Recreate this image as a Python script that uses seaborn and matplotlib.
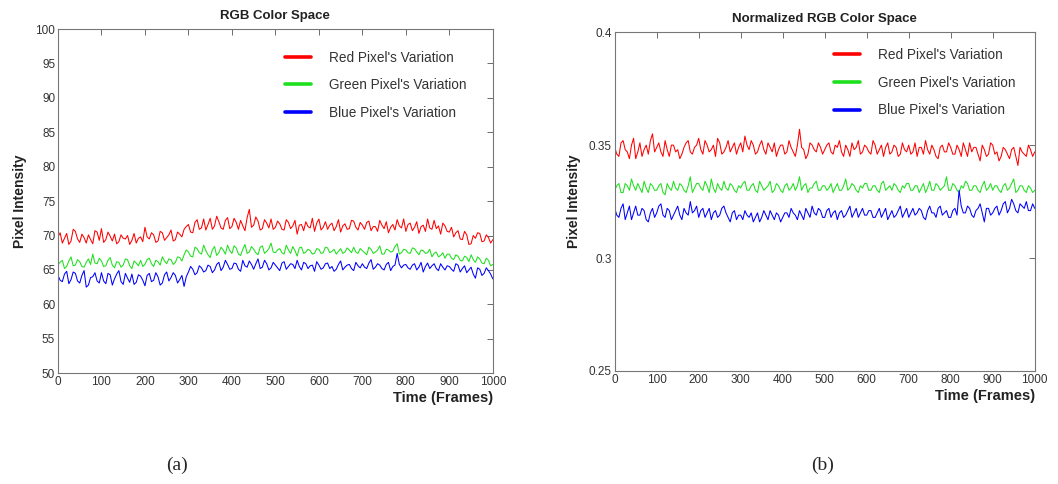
import numpy as np
import pandas as pd
import matplotlib.pyplot as plt
import seaborn as sns

# values: one list at frames 0,10,...,1000
# and one list at the frames in between (5,15,...,995)
frames = list(range(0, 1001, 5))

# (a) RGB colour space
red_a = [69.8, 68.9, 70.3, 69.2, 70.6, 69.0, 69.7, 70.1, 68.8, 70.5,
         71.0, 69.4, 69.9, 70.2, 69.1, 69.6, 70.0, 69.3, 68.9, 69.8,
         71.2, 69.5, 70.1, 69.2, 70.4, 69.7, 70.8, 69.4, 70.2, 70.9,
         71.6, 70.4, 72.3, 71.1, 70.8, 72.5, 71.4, 72.0, 70.9, 72.6,
         71.3, 71.9, 72.2, 70.7, 73.8, 71.5, 72.1, 71.0, 71.8, 72.4,
         71.2, 71.7, 70.8, 71.9, 71.4, 70.2, 71.6, 72.0, 71.1, 70.6,
         72.4, 71.2, 70.9, 71.8, 71.3, 70.5, 71.7, 71.0, 72.1, 70.8,
         71.5, 71.9, 70.7, 71.3, 72.2, 71.0, 70.4, 71.6, 72.3, 71.1,
         70.6, 71.8, 71.2, 70.3, 71.5, 72.4, 70.9, 71.0, 70.2, 71.4,
         70.5, 69.8, 70.7, 69.4, 70.1, 68.8, 69.6, 70.3, 69.2, 69.7, 69.4]
red_a_mid = [70.4, 69.6, 68.7, 70.9, 69.5, 70.2, 68.9, 69.4, 70.7, 69.3,
             69.0, 70.5, 69.2, 68.8, 70.1, 69.5, 68.7, 70.3, 69.6, 69.1,
             69.8, 70.4, 69.0, 70.6, 69.3, 70.1, 69.2, 70.5, 69.8, 71.3,
             70.5, 71.9, 70.9, 72.4, 71.6, 70.9, 72.8, 71.1, 72.2, 71.0,
             72.5, 70.9, 71.4, 72.6, 71.2, 72.7, 70.8, 72.3, 71.1, 70.9,
             72.1, 70.9, 72.3, 71.0, 72.2, 71.5, 70.7, 71.3, 72.5, 71.8,
             70.8, 72.0, 71.5, 70.7, 72.3, 71.4, 70.9, 72.2, 71.2, 71.9,
             70.9, 72.1, 71.3, 70.6, 71.5, 72.0, 71.2, 70.8, 71.4, 72.4,
             71.6, 70.7, 72.0, 71.3, 70.6, 71.1, 72.2, 71.4, 71.8, 70.6,
             71.2, 70.4, 69.5, 70.6, 68.7, 70.0, 70.4, 69.1, 70.1, 68.9]
green_a = [65.8, 66.4, 65.5, 66.9, 65.7, 66.2, 65.4, 66.6, 67.3, 65.9,
           66.3, 65.6, 66.8, 65.3, 66.1, 65.7, 66.5, 65.2, 66.0, 66.4,
           65.8, 66.7, 65.5, 66.2, 66.9, 65.9, 66.5, 66.1, 66.8, 67.2,
           67.6, 66.9, 68.1, 67.3, 67.8, 66.8, 68.4, 67.5, 67.9, 68.6,
           67.4, 68.2, 67.1, 68.7, 67.6, 68.0, 67.2, 68.5, 67.7, 68.9,
           67.5, 68.1, 67.3, 67.9, 68.4, 67.0, 68.3, 67.6, 67.8, 67.4,
           68.0, 67.5, 68.2, 67.7, 67.3, 68.1, 67.6, 67.9, 68.3, 67.4,
           67.8, 67.2, 68.0, 67.6, 68.5, 67.3, 67.9, 67.7, 68.8, 67.5,
           67.9, 67.4, 68.1, 67.2, 67.8, 67.5, 66.9, 67.6, 67.1, 66.7,
           67.3, 66.5, 67.0, 66.3, 66.8, 67.2, 66.1, 66.6, 65.9, 66.4, 65.8]
green_a_mid = [66.1, 65.2, 66.3, 65.6, 66.5, 65.5, 66.1, 65.8, 66.0, 66.7,
               65.5, 66.4, 65.7, 66.2, 65.4, 66.6, 65.6, 66.3, 65.6, 65.5,
               66.5, 65.9, 66.4, 65.7, 66.3, 66.6, 65.8, 66.9, 66.3, 67.9,
               67.0, 68.3, 67.5, 68.6, 67.2, 67.9, 67.1, 68.3, 67.3, 67.8,
               68.5, 67.3, 68.0, 67.4, 68.4, 67.5, 68.3, 67.4, 68.1, 67.6,
               67.9, 67.5, 68.6, 67.4, 67.8, 68.2, 67.4, 68.0, 67.3, 68.1,
               67.4, 68.3, 67.5, 68.0, 67.7, 67.4, 68.2, 67.5, 67.6, 68.1,
               67.5, 68.3, 67.4, 67.9, 67.3, 68.0, 67.6, 68.4, 67.3, 68.0,
               67.5, 68.2, 67.6, 67.9, 67.4, 68.0, 67.4, 66.9, 67.5, 67.3,
               66.7, 67.2, 66.4, 67.0, 66.2, 66.5, 66.9, 66.0, 66.7, 65.6]
blue_a = [64.2, 63.3, 64.8, 63.6, 64.5, 63.1, 64.9, 62.8, 64.0, 63.4,
          64.6, 63.0, 64.3, 63.7, 64.9, 62.9, 63.8, 64.4, 63.2, 64.1,
          62.7, 64.5, 63.5, 64.0, 63.1, 64.7, 63.9, 64.2, 63.6, 62.6,
          64.7, 65.1, 64.6, 65.3, 64.9, 65.5, 65.0, 66.1, 65.4, 65.8,
          65.2, 65.9, 64.8, 65.6, 66.3, 65.1, 66.6, 65.4, 65.9, 65.3,
          65.7, 64.9, 66.2, 65.5, 65.8, 66.4, 65.0, 65.9, 65.6, 64.8,
          65.7, 65.3, 66.0, 65.5, 65.1, 66.3, 65.4, 65.8, 64.9, 65.6,
          65.9, 65.2, 66.5, 65.4, 65.7, 65.0, 66.1, 65.5, 67.4, 65.3,
          65.8, 65.1, 65.9, 65.4, 64.7, 66.0, 65.6, 65.2, 65.9, 65.0,
          65.5, 64.8, 65.7, 65.2, 64.6, 65.4, 63.8, 65.1, 64.5, 64.9, 63.7]
blue_a_mid = [63.5, 64.4, 63.0, 64.7, 63.4, 64.2, 62.5, 63.9, 64.6, 63.1,
              63.4, 64.5, 62.8, 64.4, 63.3, 64.5, 63.2, 62.9, 64.3, 63.5,
              64.2, 63.3, 64.6, 62.8, 64.3, 63.4, 64.6, 63.1, 64.2, 64.0,
              65.5, 64.3, 65.6, 64.7, 65.7, 64.6, 65.8, 64.9, 66.4, 65.1,
              66.0, 65.1, 66.4, 65.4, 65.8, 65.9, 65.2, 66.4, 65.0, 66.1,
              65.3, 66.0, 65.1, 65.9, 65.2, 65.5, 66.1, 65.2, 65.7, 66.2,
              65.1, 65.9, 65.2, 64.8, 65.8, 65.0, 65.7, 65.2, 66.1, 65.3,
              65.4, 66.0, 65.1, 65.9, 65.2, 65.8, 64.9, 65.7, 65.8, 65.7,
              65.3, 65.7, 65.0, 66.1, 65.5, 65.2, 65.9, 64.9, 65.4, 65.6,
              65.1, 65.9, 64.7, 65.6, 65.0, 64.4, 65.3, 64.2, 65.3, 64.4]

# (b) normalized RGB colour space
red_b = [0.349, 0.345, 0.352, 0.347, 0.350, 0.344, 0.351, 0.348, 0.346, 0.355,
         0.349, 0.347, 0.352, 0.345, 0.350, 0.348, 0.346, 0.351, 0.347, 0.349,
         0.353, 0.346, 0.350, 0.348, 0.345, 0.351, 0.347, 0.352, 0.349, 0.346,
         0.351, 0.354, 0.348, 0.350, 0.347, 0.352, 0.346, 0.349, 0.351, 0.348,
         0.350, 0.347, 0.349, 0.345, 0.357, 0.348, 0.346, 0.350, 0.347, 0.349,
         0.348, 0.351, 0.346, 0.349, 0.347, 0.350, 0.345, 0.348, 0.352, 0.347,
         0.349, 0.346, 0.350, 0.348, 0.345, 0.351, 0.347, 0.349, 0.346, 0.348,
         0.350, 0.347, 0.345, 0.349, 0.352, 0.346, 0.348, 0.344, 0.350, 0.347,
         0.349, 0.346, 0.348, 0.351, 0.345, 0.347, 0.349, 0.343, 0.348, 0.346,
         0.350, 0.347, 0.345, 0.348, 0.344, 0.349, 0.341, 0.347, 0.345, 0.348, 0.347]
red_b_mid = [0.346, 0.351, 0.348, 0.344, 0.353, 0.347, 0.345, 0.350, 0.352, 0.347,
             0.351, 0.345, 0.348, 0.350, 0.347, 0.344, 0.349, 0.352, 0.346, 0.350,
             0.348, 0.352, 0.347, 0.350, 0.353, 0.346, 0.349, 0.347, 0.351, 0.349,
             0.347, 0.350, 0.352, 0.346, 0.350, 0.348, 0.351, 0.347, 0.345, 0.350,
             0.346, 0.352, 0.347, 0.350, 0.349, 0.344, 0.351, 0.348, 0.351, 0.346,
             0.350, 0.347, 0.350, 0.352, 0.345, 0.348, 0.351, 0.349, 0.346, 0.350,
             0.347, 0.352, 0.346, 0.350, 0.349, 0.346, 0.350, 0.345, 0.351, 0.347,
             0.346, 0.351, 0.349, 0.346, 0.348, 0.350, 0.345, 0.349, 0.347, 0.351,
             0.346, 0.350, 0.345, 0.348, 0.351, 0.349, 0.346, 0.350, 0.345, 0.351,
             0.346, 0.343, 0.349, 0.346, 0.348, 0.345, 0.349, 0.346, 0.350, 0.345]
green_b = [0.330, 0.333, 0.329, 0.332, 0.335, 0.330, 0.331, 0.334, 0.329, 0.332,
           0.330, 0.333, 0.328, 0.331, 0.334, 0.330, 0.332, 0.329, 0.336, 0.331,
           0.333, 0.330, 0.332, 0.335, 0.329, 0.331, 0.334, 0.330, 0.332, 0.329,
           0.331, 0.334, 0.330, 0.333, 0.329, 0.332, 0.331, 0.334, 0.330, 0.332,
           0.329, 0.333, 0.331, 0.330, 0.336, 0.332, 0.329, 0.331, 0.334, 0.330,
           0.332, 0.331, 0.329, 0.333, 0.330, 0.335, 0.331, 0.332, 0.329, 0.331,
           0.333, 0.330, 0.332, 0.329, 0.334, 0.331, 0.330, 0.332, 0.329, 0.331,
           0.333, 0.330, 0.332, 0.331, 0.329, 0.334, 0.330, 0.332, 0.331, 0.336,
           0.330, 0.332, 0.329, 0.331, 0.333, 0.330, 0.332, 0.329, 0.334, 0.331,
           0.330, 0.332, 0.329, 0.333, 0.331, 0.335, 0.330, 0.332, 0.329, 0.331, 0.330]
green_b_mid = [0.332, 0.329, 0.333, 0.330, 0.332, 0.333, 0.329, 0.331, 0.333, 0.330,
               0.332, 0.329, 0.333, 0.330, 0.331, 0.333, 0.330, 0.332, 0.329, 0.333,
               0.331, 0.334, 0.329, 0.331, 0.333, 0.330, 0.331, 0.333, 0.330, 0.332,
               0.333, 0.330, 0.332, 0.330, 0.334, 0.330, 0.332, 0.329, 0.333, 0.330,
               0.332, 0.330, 0.333, 0.332, 0.330, 0.333, 0.331, 0.333, 0.330, 0.332,
               0.330, 0.333, 0.331, 0.330, 0.332, 0.330, 0.333, 0.330, 0.332, 0.333,
               0.330, 0.332, 0.330, 0.333, 0.330, 0.332, 0.333, 0.330, 0.332, 0.333,
               0.330, 0.332, 0.329, 0.333, 0.331, 0.330, 0.333, 0.330, 0.332, 0.330,
               0.333, 0.330, 0.332, 0.334, 0.330, 0.332, 0.330, 0.332, 0.330, 0.333,
               0.332, 0.330, 0.332, 0.330, 0.333, 0.329, 0.332, 0.330, 0.332, 0.329]
blue_b = [0.322, 0.318, 0.324, 0.320, 0.317, 0.323, 0.319, 0.321, 0.316, 0.322,
          0.320, 0.324, 0.318, 0.321, 0.319, 0.323, 0.317, 0.320, 0.325, 0.321,
          0.318, 0.322, 0.320, 0.317, 0.321, 0.319, 0.323, 0.318, 0.320, 0.317,
          0.319, 0.321, 0.318, 0.316, 0.320, 0.318, 0.319, 0.321, 0.317, 0.319,
          0.318, 0.320, 0.322, 0.319, 0.321, 0.317, 0.320, 0.323, 0.319, 0.321,
          0.318, 0.322, 0.320, 0.317, 0.321, 0.319, 0.323, 0.320, 0.318, 0.322,
          0.319, 0.321, 0.318, 0.322, 0.320, 0.317, 0.321, 0.319, 0.323, 0.320,
          0.318, 0.322, 0.320, 0.321, 0.317, 0.323, 0.320, 0.322, 0.319, 0.321,
          0.318, 0.322, 0.330, 0.320, 0.323, 0.319, 0.321, 0.324, 0.316, 0.322,
          0.320, 0.323, 0.321, 0.325, 0.322, 0.324, 0.320, 0.323, 0.325, 0.321, 0.322]
blue_b_mid = [0.319, 0.322, 0.317, 0.323, 0.320, 0.319, 0.322, 0.317, 0.320, 0.318,
              0.323, 0.319, 0.322, 0.317, 0.321, 0.319, 0.322, 0.319, 0.320, 0.323,
              0.321, 0.318, 0.322, 0.320, 0.318, 0.322, 0.320, 0.316, 0.321, 0.319,
              0.317, 0.319, 0.320, 0.318, 0.316, 0.321, 0.317, 0.319, 0.320, 0.316,
              0.320, 0.318, 0.320, 0.317, 0.319, 0.322, 0.318, 0.320, 0.322, 0.318,
              0.321, 0.318, 0.321, 0.320, 0.318, 0.321, 0.318, 0.322, 0.320, 0.319,
              0.321, 0.318, 0.320, 0.318, 0.322, 0.319, 0.318, 0.321, 0.318, 0.322,
              0.320, 0.319, 0.322, 0.318, 0.321, 0.320, 0.318, 0.323, 0.320, 0.318,
              0.321, 0.319, 0.323, 0.320, 0.322, 0.318, 0.322, 0.320, 0.322, 0.319,
              0.322, 0.319, 0.324, 0.320, 0.326, 0.321, 0.324, 0.322, 0.321, 0.324]

names = ["Red Pixel's Variation", "Green Pixel's Variation", "Blue Pixel's Variation"]
colors = ["#ff0000", "#1ee01e", "#0000ff"]

sns.set_style("white")
plt.rcParams['font.family'] = ['Liberation Sans', 'DejaVu Sans']


def merge(on, mid):
    # put the in-between readings back between the 10-frame readings
    out = []
    for i, v in enumerate(on):
        out.append(v)
        if i < len(mid):
            out.append(mid[i])
    return out


def long_df(series):
    vals, labs = [], []
    for name, (on, mid) in zip(names, series):
        v = merge(on, mid)
        vals += v
        labs += [name] * len(v)
    return pd.DataFrame({'frame': frames * 3, 'value': vals, 'series': labs})


df_a = long_df([(red_a, red_a_mid), (green_a, green_a_mid), (blue_a, blue_a_mid)])
df_b = long_df([(red_b, red_b_mid), (green_b, green_b_mid), (blue_b, blue_b_mid)])

fig = plt.figure(figsize=(10.58, 4.84), dpi=100)
ax1 = fig.add_axes([0.0548, 0.229, 0.411, 0.711])
ax2 = fig.add_axes([0.581, 0.2335, 0.397, 0.700])

panels = [
    (ax1, df_a, 'RGB Color Space', (50, 100),
     list(range(50, 101, 5)), [str(v) for v in range(50, 101, 5)], (0.493, 0.973)),
    (ax2, df_b, 'Normalized RGB Color Space', (0.25, 0.4),
     [0.25, 0.3, 0.35, 0.4], ['0.25', '0.3', '0.35', '0.4'], (0.492, 0.989)),
]

for ax, df, title, ylim, yt, ytl, anchor in panels:
    sns.lineplot(data=df, x='frame', y='value', hue='series', palette=colors,
                 linewidth=0.75, ax=ax)
    ax.set_xlim(0, 1000)
    ax.set_ylim(*ylim)
    ax.set_xticks(range(0, 1001, 100))
    ax.set_yticks(yt)
    ax.set_yticklabels(ytl)
    ax.tick_params(direction='in', top=True, right=True, length=4, width=0.6,
                   labelsize=8.5, labelcolor='#333333', color='#555555', pad=2)
    for sp in ax.spines.values():
        sp.set_color('#777777')
        sp.set_linewidth(0.8)
    ax.set_title(title, fontsize=9.5, fontweight='bold', color='#222222', pad=7)
    ax.set_xlabel('Time (Frames)', fontsize=10.5, fontweight='bold', color='#222222',
                  loc='right', labelpad=2)
    ax.set_ylabel('Pixel Intensity', fontsize=10, fontweight='bold', color='#222222',
                  labelpad=6)
    leg = ax.legend(loc='upper left', bbox_to_anchor=anchor, frameon=False,
                    fontsize=9.8, handlelength=1.95, handletextpad=1.3,
                    labelspacing=1.0)
    for t in leg.get_texts():
        t.set_color('#333333')
    for h in leg.get_lines():
        h.set_linewidth(2.6)

fig.text(0.167, 0.03, '(a)', fontsize=14, family='Liberation Serif', ha='center')
fig.text(0.777, 0.03, '(b)', fontsize=14, family='Liberation Serif', ha='center')

plt.savefig('out.png', dpi=100)
